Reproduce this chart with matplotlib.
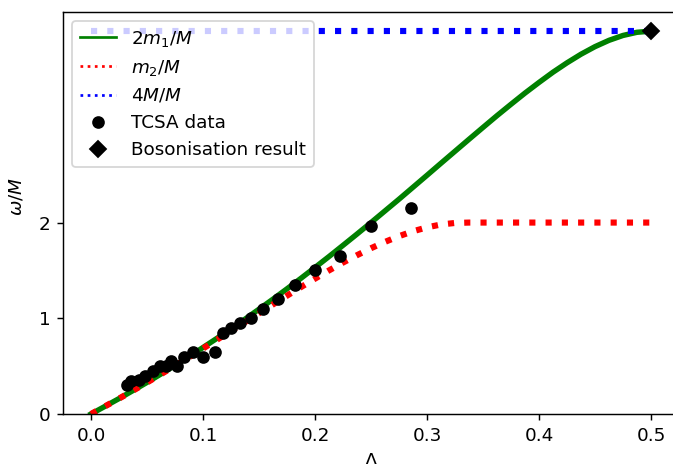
import numpy as np
import matplotlib
matplotlib.use('Agg')
import matplotlib.pyplot as plt

plt.rcParams['font.size'] = 10.2

# Curvas teóricas (Lambda de 0 a 0.5, passo 0.0125)
lam = [0.0, 0.0125, 0.025, 0.0375, 0.05, 0.0625, 0.075, 0.0875, 0.1, 0.1125,
       0.125, 0.1375, 0.15, 0.1625, 0.175, 0.1875, 0.2, 0.2125, 0.225, 0.2375,
       0.25, 0.2625, 0.275, 0.2875, 0.3, 0.3125, 0.325, 0.3375, 0.35, 0.3625,
       0.375, 0.3875, 0.4, 0.4125, 0.425, 0.4375, 0.45, 0.4625, 0.475, 0.4875,
       0.5]
m1_2 = [0.0, 0.080, 0.161, 0.245, 0.330, 0.418, 0.508, 0.600, 0.695, 0.791,
        0.890, 0.991, 1.095, 1.200, 1.308, 1.418, 1.531, 1.645, 1.762, 1.880,
        2.000, 2.122, 2.244, 2.369, 2.494, 2.620, 2.745, 2.870, 2.994, 3.117,
        3.236, 3.353, 3.464, 3.571, 3.669, 3.759, 3.838, 3.904, 3.955, 3.988,
        4.0]
m2 = [0.0, 0.080, 0.161, 0.244, 0.329, 0.416, 0.504, 0.593, 0.684, 0.776,
      0.868, 0.960, 1.053, 1.145, 1.236, 1.326, 1.414, 1.500, 1.582, 1.659,
      1.732, 1.798, 1.858, 1.909, 1.950, 1.980, 1.996, 2.0, 2.0, 2.0,
      2.0, 2.0, 2.0, 2.0, 2.0, 2.0, 2.0, 2.0, 2.0, 2.0,
      2.0]
lam_4M = [0.0, 0.5]
m_4M = [4.0, 4.0]

# Dados TCSA
tcsa_lam = [0.032, 0.036, 0.043, 0.048, 0.055, 0.062, 0.067, 0.071, 0.077, 0.083,
            0.091, 0.100, 0.111, 0.118, 0.125, 0.133, 0.143, 0.154, 0.167, 0.182,
            0.200, 0.222, 0.250, 0.286]
tcsa_w = [0.30, 0.35, 0.36, 0.40, 0.45, 0.50, 0.50, 0.55, 0.50, 0.60,
          0.65, 0.60, 0.65, 0.85, 0.90, 0.95, 1.00, 1.10, 1.20, 1.35,
          1.50, 1.65, 1.96, 2.15]

# Resultado da bosonização
bos_lam = [0.5]
bos_w = [4.0]

fig = plt.figure(figsize=(673/130, 464/130), dpi=130)
ax = fig.add_axes([63/673, 50/464, 616/673, 402/464])

# legenda (linhas finas)
ax.plot([], [], 'g-', label='$2m_1/M$')
ax.plot([], [], 'r:', label='$m_2/M$')
ax.plot([], [], 'b:', label='$4M/M$')

ax.plot(lam, m1_2, 'g-', lw=3)
ax.plot(lam, m2, 'r:', lw=3.4)
ax.plot(lam_4M, m_4M, 'b:', lw=3.4)
ax.plot(tcsa_lam, tcsa_w, 'ko', label='TCSA data')
ax.plot(bos_lam, bos_w, 'kD', label='Bosonisation result')

ax.set_xlim(-0.025, 0.525)
ax.set_ylim(0, 4.2)
ax.set_yticks([0, 1, 2])
ax.set_xlabel(r'$\Lambda$')
ax.set_ylabel(r'$\omega/M$')
ax.yaxis.set_label_coords(-0.061, 0.54)
ax.legend(loc='upper left')

fig.savefig('out.png', dpi=130)
